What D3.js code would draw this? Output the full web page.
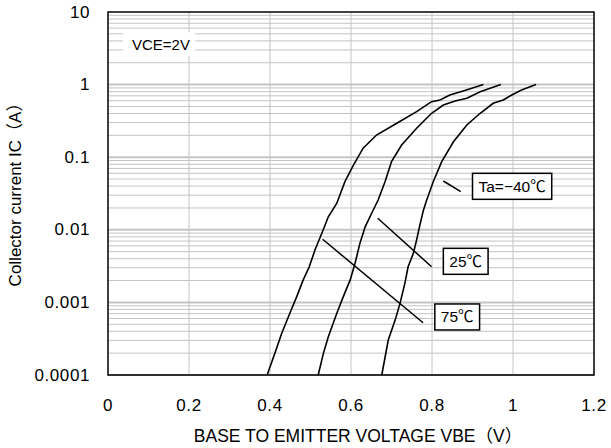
<!DOCTYPE html>
<html>
<head>
<meta charset="utf-8">
<script src="https://cdn.jsdelivr.net/npm/d3@7"></script>
<style>
  html, body { margin: 0; padding: 0; background: #fff; }
  svg { display: block; }
  text { font-family: "Liberation Sans", Arial, "Noto Sans CJK JP", sans-serif; fill: #000; }
</style>
</head>
<body>
<svg id="chart" width="611" height="448"></svg>
<script>
// Collector current vs. base-emitter voltage at three ambient temperatures (VCE = 2V)
const xTicks = [0, 0.2, 0.4, 0.6, 0.8, 1.0, 1.2];
const xTickLabels = ["0", "0.2", "0.4", "0.6", "0.8", "1", "1.2"];
const yTicks = [1e-4, 1e-3, 1e-2, 1e-1, 1, 10];
const yTickLabels = ["0.0001", "0.001", "0.01", "0.1", "1", "10"];

// [VBE (V), IC (A)]
const curve75 = [
  [0.393, 1.0e-4], [0.412, 2.0e-4], [0.429, 3.75e-4], [0.449, 7.1e-4], [0.466, 1.2e-3],
  [0.482, 2.04e-3], [0.497, 3.1e-3], [0.511, 5.27e-3], [0.528, 8.95e-3], [0.544, 0.0151],
  [0.565, 0.0232], [0.585, 0.046], [0.606, 0.078], [0.630, 0.133], [0.663, 0.202],
  [0.713, 0.293], [0.762, 0.424], [0.799, 0.582], [0.820, 0.614], [0.844, 0.72],
  [0.877, 0.817], [0.927, 1.0]
];
const curve25 = [
  [0.519, 1.0e-4], [0.532, 2.0e-4], [0.544, 3.37e-4], [0.565, 7.1e-4], [0.581, 1.2e-3],
  [0.598, 2.04e-3], [0.610, 3.46e-3], [0.622, 6.5e-3], [0.635, 0.011], [0.651, 0.0169],
  [0.667, 0.0257], [0.684, 0.046], [0.700, 0.0867], [0.725, 0.147], [0.762, 0.25],
  [0.799, 0.403], [0.828, 0.524], [0.857, 0.594], [0.886, 0.647], [0.919, 0.798],
  [0.970, 1.0]
];
const curveM40 = [
  [0.676, 1.0e-4], [0.692, 3.03e-4], [0.709, 5.7e-4], [0.721, 9.7e-4], [0.733, 1.83e-3],
  [0.741, 3.1e-3], [0.754, 4.74e-3], [0.762, 7.25e-3], [0.770, 0.0116], [0.779, 0.0188],
  [0.787, 0.0257], [0.803, 0.046], [0.824, 0.0867], [0.853, 0.163], [0.886, 0.278],
  [0.919, 0.403], [0.951, 0.552], [0.976, 0.614], [0.997, 0.72], [1.021, 0.843],
  [1.057, 1.0]
];
const curves = [curve75, curve25, curveM40];

// temperature labels: leader line start/end and label anchor (left-middle of box)
const tempLabels = ["Ta=\u221240\u2103", "25\u2103", "75\u2103"];
const leaderLines = [
  [[0.828, 0.047], [0.871, 0.0335]],
  [[0.666, 0.0144], [0.799, 3.1e-3]],
  [[0.530, 7.4e-3], [0.778, 5.25e-4]]
];
const labelAnchors = [[0.900, 0.0397], [0.828, 3.68e-3], [0.807, 6.3e-4]];
const conditionLabel = "VCE=2V";
const conditionAnchor = [0.037, 3.6];
const xTitle = "BASE TO EMITTER VOLTAGE VBE\uFF08V\uFF09";
const yTitle = "Collector current IC\uFF08A\uFF09";

const svg = d3.select("#chart");
const plotL = 108, plotR = 594, plotT = 12, plotB = 375;

const x = d3.scaleLinear().domain([0, 1.2]).range([plotL, plotR]);
const y = d3.scaleLog().domain([1e-4, 10]).range([plotB, plotT]);

// grid
const grid = svg.append("g").attr("stroke", "#c4c4c4").attr("stroke-width", 1);
const minor = [];
for (let e = -4; e < 1; e++) {
  for (let m = 1; m <= 9; m++) minor.push(m * Math.pow(10, e));
}
grid.selectAll("line.h").data(minor).join("line")
  .attr("x1", plotL).attr("x2", plotR)
  .attr("y1", d => y(d)).attr("y2", d => y(d))
  .attr("stroke-width", d => Math.abs(Math.log10(d) - Math.round(Math.log10(d))) < 1e-9 ? 2 : 1);
grid.selectAll("line.v").data(xTicks.slice(1, -1)).join("line")
  .attr("x1", d => x(d)).attr("x2", d => x(d))
  .attr("y1", plotT).attr("y2", plotB);

// condition label on a white patch
const cond = svg.append("g");
cond.append("rect")
  .attr("x", x(conditionAnchor[0])).attr("y", y(conditionAnchor[1]) - 12)
  .attr("width", 72).attr("height", 24).attr("fill", "#fff");
cond.append("text")
  .attr("x", x(conditionAnchor[0]) + 38).attr("y", y(conditionAnchor[1]))
  .attr("text-anchor", "middle").attr("dominant-baseline", "central")
  .attr("font-size", 15).text(conditionLabel);

// frame
svg.append("rect")
  .attr("x", plotL).attr("y", plotT).attr("width", plotR - plotL).attr("height", plotB - plotT)
  .attr("fill", "none").attr("stroke", "#000").attr("stroke-width", 1.5);

// curves
const line = d3.line().x(d => x(d[0])).y(d => y(d[1]));
svg.append("g").selectAll("path").data(curves).join("path")
  .attr("d", line).attr("fill", "none").attr("stroke", "#000").attr("stroke-width", 1.6);

// leader lines
svg.append("g").selectAll("line").data(leaderLines).join("line")
  .attr("x1", d => x(d[0][0])).attr("y1", d => y(d[0][1]))
  .attr("x2", d => x(d[1][0])).attr("y2", d => y(d[1][1]))
  .attr("stroke", "#000").attr("stroke-width", 1.5);

// temperature labels in boxes
const tl = svg.append("g").selectAll("g").data(tempLabels).join("g")
  .attr("transform", (d, i) => `translate(${x(labelAnchors[i][0])},${y(labelAnchors[i][1])})`);
tl.append("text")
  .attr("x", 6).attr("y", 0).attr("dominant-baseline", "central")
  .attr("font-size", 15.5).text(d => d);
tl.each(function() {
  const g = d3.select(this);
  const bb = g.select("text").node().getBBox();
  g.insert("rect", "text")
    .attr("x", 0).attr("y", -13).attr("width", bb.width + 12).attr("height", 26)
    .attr("fill", "#fff").attr("stroke", "#000").attr("stroke-width", 1.5);
});

// tick labels
svg.append("g").selectAll("text").data(yTicks).join("text")
  .attr("x", 90).attr("y", d => y(d)).attr("text-anchor", "end")
  .attr("dominant-baseline", "central").attr("font-size", 17)
  .attr("letter-spacing", 0.6)
  .text((d, i) => yTickLabels[i]);
svg.append("g").selectAll("text").data(xTicks).join("text")
  .attr("x", d => x(d)).attr("y", 405).attr("text-anchor", "middle")
  .attr("dominant-baseline", "central").attr("font-size", 17)
  .attr("letter-spacing", 0.6)
  .text((d, i) => xTickLabels[i]);

// axis titles
svg.append("text")
  .attr("x", (plotL + plotR) / 2 + 7).attr("y", 436).attr("text-anchor", "middle")
  .attr("dominant-baseline", "central").attr("font-size", 17.5).text(xTitle);
svg.append("text")
  .attr("transform", `translate(15,${(plotT + plotB) / 2 - 3}) rotate(-90)`)
  .attr("text-anchor", "middle").attr("dominant-baseline", "central")
  .attr("font-size", 17).text(yTitle);
</script>
</body>
</html>
